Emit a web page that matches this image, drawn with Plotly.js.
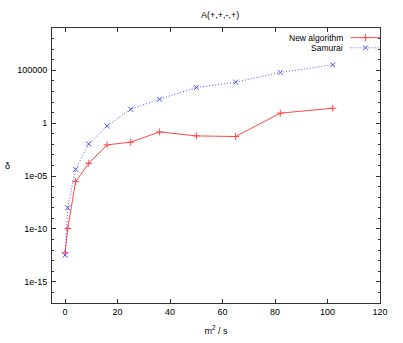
<!DOCTYPE html>
<html>
<head>
<meta charset="utf-8">
<script src="https://cdn.plot.ly/plotly-3.0.1.min.js"></script>
<style>
  html, body { margin: 0; padding: 0; background: #fff; }
  #chart { width: 403px; height: 343px; }
</style>
</head>
<body>
<div id="chart"></div>
<script>
// valeurs
const xValues = [0, 1, 4, 9, 16, 25, 36, 50, 65, 82, 102];
const newAlgorithm = [5.6e-13, 1.1e-10, 3e-6, 1.6e-4, 9e-3, 1.6e-2, 0.15, 0.063, 0.055, 8.9, 26];
const samurai = [3.4e-13, 1e-8, 4.4e-5, 0.011, 0.55, 21, 186, 2340, 7600, 62000, 330000];
const seriesNames = ['New algorithm', 'Samurai'];
const yTickVals = [1e-15, 1e-10, 1e-5, 1, 1e5];
const yTickText = ['1e-15', '1e-10', '1e-05', '1', '100000'];

const font = 'Liberation Sans Narrow, Arial Narrow, Liberation Sans, sans-serif';
const red = '#ff4848';
const blue = '#5050ff';

const traceNew = {
    x: xValues,
    y: newAlgorithm,
    type: 'scatter',
    mode: 'lines+markers',
    name: '',
    legend: 'legend',
    line: { color: red, width: 1 },
    marker: { symbol: 'cross-thin', size: 5, line: { color: red, width: 1 } }
};

const traceSamurai = {
    x: xValues,
    y: samurai,
    type: 'scatter',
    mode: 'lines+markers',
    name: '',
    legend: 'legend2',
    line: { color: blue, width: 1, dash: '1px,2px' },
    marker: { symbol: 'x-thin', size: 5, line: { color: blue, width: 1 } }
};

// une légende par série pour placer chaque ligne où il faut
const legendBase = {
    xanchor: 'left', yanchor: 'middle',
    bgcolor: 'rgba(0,0,0,0)', font: { size: 8 },
    itemwidth: 30, borderwidth: 0
};

const layout = {
    width: 403,
    height: 343,
    margin: { l: 52, r: 15, t: 28, b: 40 },
    paper_bgcolor: '#fff',
    plot_bgcolor: '#fff',
    font: { family: font, size: 9, color: '#000' },
    title: { text: 'A(+,+,-,+)', x: 0.546, xanchor: 'center', y: 0.956, yanchor: 'middle', font: { size: 9 } },
    showlegend: true,
    legend: Object.assign({}, legendBase, { x: 0.895, y: 0.965 }),
    legend2: Object.assign({}, legendBase, { x: 0.895, y: 0.928 }),
    xaxis: {
        range: [-5, 120],
        tickmode: 'linear', tick0: 0, dtick: 20,
        ticks: 'inside', ticklen: 4, tickcolor: '#333',
        showline: true, linecolor: '#333', linewidth: 1, mirror: 'allticks',
        showgrid: false, zeroline: false,
        title: { text: 'm<sup>2</sup> / s', standoff: 11, font: { size: 9 } }
    },
    yaxis: {
        type: 'log',
        range: [-17, 9],
        tickmode: 'array', tickvals: yTickVals, ticktext: yTickText,
        ticks: 'inside', ticklen: 4, tickcolor: '#333',
        minor: { tickmode: 'linear', dtick: 1, ticks: 'inside', ticklen: 2, tickcolor: '#333', showgrid: false },
        showline: true, linecolor: '#333', linewidth: 1, mirror: 'allticks',
        showgrid: false, zeroline: false,
        ticklabelstandoff: 2
    },
    annotations: [
        { text: seriesNames[0], xref: 'paper', yref: 'paper', x: 0.893, y: 0.965, xanchor: 'right', yanchor: 'middle', showarrow: false, font: { size: 8.5 } },
        { text: seriesNames[1], xref: 'paper', yref: 'paper', x: 0.893, y: 0.928, xanchor: 'right', yanchor: 'middle', showarrow: false, font: { size: 8.5 } },
        { text: 'δ', xref: 'paper', yref: 'paper', x: -0.137, y: 0.5, xanchor: 'center', yanchor: 'middle', showarrow: false, font: { size: 9 } }
    ]
};

Plotly.newPlot('chart', [traceNew, traceSamurai], layout, { displayModeBar: false, staticPlot: true });
</script>
</body>
</html>
